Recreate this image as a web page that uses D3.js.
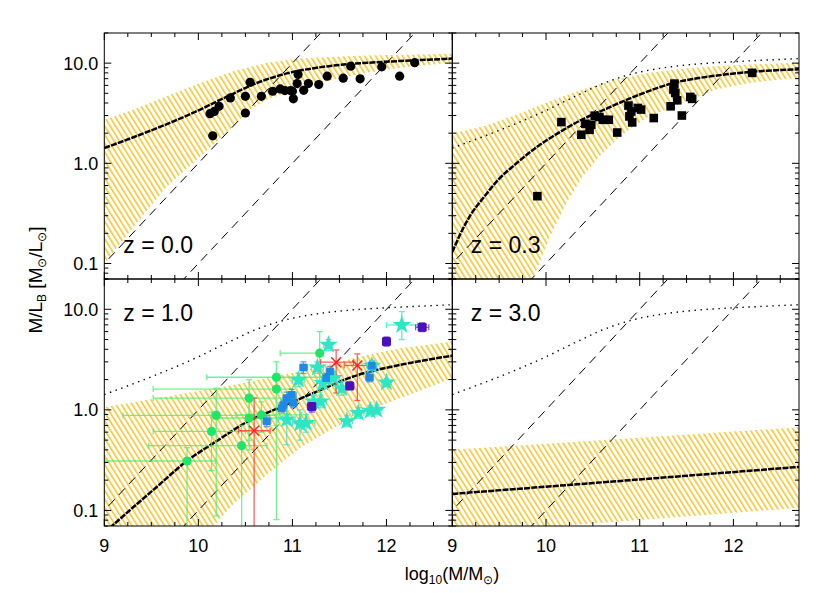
<!DOCTYPE html>
<html><head><meta charset="utf-8">
<script src="https://cdn.jsdelivr.net/npm/d3@7"></script>
<style>body{margin:0;background:#fff}text{font-family:Arial,"Liberation Sans",Helvetica,sans-serif}</style>
</head><body><svg id="c" width="830" height="593"></svg>
<script>
// ---------------- data ----------------
const xTicks = [9, 10, 11, 12];
const xTickLabels = ["9", "10", "11", "12"];
const yTicks = [0.1, 1, 10];
const yTickLabels = ["0.1", "1.0", "10.0"];
const panelLabels = ["z = 0.0", "z = 0.3", "z = 1.0", "z = 3.0"];
const guideLineLogL = [10, 11];

// local (z=0) model, drawn dotted in the other panels
const curveZ00 = [[9.0,1.42],[9.31,1.82],[9.66,2.45],[10.02,3.44],[10.2,4.16],[10.38,5.0],[10.55,5.95],[10.73,6.9],[10.94,7.9],[11.26,9.0],[11.61,9.8],[11.97,10.3],[12.32,10.7],[12.7,11.1]];
const bandHiZ00 = [[9.0,2.72],[9.31,3.44],[9.66,4.67],[10.02,6.35],[10.37,8.3],[10.73,10.1],[11.08,11.1],[11.44,11.6],[11.79,11.9],[12.15,12.1],[12.71,12.4]];
const bandLoZ00 = [[9.0,0.10],[9.31,0.23],[9.66,0.58],[10.02,1.17],[10.37,2.33],[10.55,3.44],[10.73,4.33],[11.08,5.66],[11.44,6.87],[11.79,8.0],[12.15,9.0],[12.5,9.7],[12.71,10.1]];

const curveZ03 = [[9.0,0.13],[9.1,0.21],[9.2,0.31],[9.33,0.45],[9.5,0.70],[9.685,1.0],[9.9,1.45],[10.146,2.05],[10.39,2.75],[10.64,3.5],[10.96,4.7],[11.35,6.3],[11.81,7.5],[12.2,8.2],[12.7,8.7]];
const bandHiZ03 = [[9.0,2.0],[9.33,2.33],[9.685,3.05],[10.04,4.16],[10.39,5.45],[10.75,6.87],[11.10,8.0],[11.46,8.8],[11.81,9.33],[12.17,9.7],[12.7,10.1]];
const bandLoZ03 = [[9.0,0.01],[9.5,0.03],[9.862,0.07],[10.04,0.184],[10.217,0.40],[10.39,0.74],[10.57,1.17],[10.75,1.72],[10.93,2.33],[11.10,2.94],[11.46,4.0],[11.81,5.45],[12.17,6.35],[12.7,7.14]];

const curveZ10 = [[9.0,0.06],[9.096,0.072],[9.31,0.108],[9.557,0.171],[9.877,0.31],[10.196,0.49],[10.53,0.77],[10.85,1.04],[11.26,1.52],[11.65,2.15],[12.15,2.80],[12.71,3.47]];
const bandHiZ10 = [[9.0,1.06],[9.664,1.36],[10.37,1.77],[10.73,2.07],[11.08,2.41],[11.44,2.91],[11.79,3.52],[12.15,4.10],[12.71,4.79]];
const bandLoZ10 = [[9.0,0.01],[9.8,0.04],[10.16,0.070],[10.37,0.115],[10.73,0.227],[11.08,0.418],[11.44,0.66],[11.79,0.966],[12.15,1.31],[12.71,2.07]];

const curveZ30 = [[9.0,0.146],[10.75,0.195],[12.7,0.271]];
const bandHiZ30 = [[9.0,0.40],[12.7,0.67]];
const bandLoZ30 = [[9.0,0.058],[12.7,0.106]];

// z = 0.0 galaxies (filled circles)
const obsZ00 = [[10.153,1.88],[10.124,3.13],[10.17,3.30],[10.22,3.71],[10.34,4.50],[10.50,4.67],[10.50,3.18],[10.55,6.44],[10.67,4.67],[10.79,5.24],[10.87,5.53],[10.92,5.32],[10.98,5.32],[11.01,4.40],[11.00,5.24],[11.06,7.71],[11.05,6.25],[11.12,5.36],[11.17,6.25],[11.28,6.11],[11.37,7.41],[11.54,7.08],[11.62,9.33],[11.72,6.97],[11.95,9.2],[12.14,7.41],[12.30,10.1]];
// z = 0.3 galaxies (filled squares)
const obsZ03 = [[10.164,2.58],[9.908,0.47],[10.377,1.93],[10.42,2.48],[10.465,2.16],[10.483,2.43],[10.52,2.99],[10.57,2.90],[10.606,2.72],[10.67,2.72],[10.76,2.03],[10.88,3.77],[10.91,3.30],[10.92,2.56],[10.89,2.94],[10.98,3.57],[11.015,3.44],[11.15,2.83],[11.33,3.71],[11.37,6.25],[11.36,5.45],[11.38,5.05],[11.40,4.26],[11.45,3.0],[11.54,4.6],[11.56,4.4],[12.20,8.0]];

// z = 1.0 samples: [x, y, xlo, xhi, ylo, yhi]
const obsZ10Green = [
  [9.88,0.31, 9.007,10.18, 0.05,0.42],
  [10.14,0.61, 9.52,10.5, 0.25,0.95],
  [10.19,0.88, 9.20,10.83, 0.088,1.64],
  [10.46,0.44, 9.47,10.73, 0.05,0.70],
  [10.54,1.31, 9.52,10.97, 0.5,2.0],
  [10.54,0.83, 10.2,10.9, 0.4,1.2],
  [10.67,0.89, 10.4,11.1, 0.6,1.2],
  [10.83,2.11, 10.09,11.47, 0.7,3.0],
  [10.83,1.61, 9.52,11.0, 0.081,2.23],
  [11.29,3.66, 10.87,11.3, 1.5,6.0]
];
const obsZ10Star = [
  [11.383,4.43, 11.33,11.43, 3.9,5.0],[11.266,2.64, 11.2,11.33, 2.3,3.0],[11.064,1.99, 11.0,11.13, 1.7,2.3],[11.323,1.85, 11.26,11.39, 1.6,2.1],
  [11.437,2.07, 11.37,11.5, 1.8,2.4],[11.525,1.64, 11.46,11.59, 1.4,1.9],[10.94,0.80, 10.85,11.03, 0.45,1.2],[11.08,0.73, 11.0,11.17, 0.5,1.0],
  [11.145,0.74, 11.05,11.24, 0.6,0.9],[11.224,1.21, 11.16,11.29, 1.05,1.4],[11.30,1.21, 11.24,11.36, 1.05,1.4],[11.578,0.77, 11.52,11.64, 0.68,0.87],
  [11.70,0.93, 11.64,11.76, 0.82,1.05],[11.827,0.98, 11.77,11.88, 0.87,1.1],[11.897,1.0, 11.84,11.95, 0.9,1.12],[12.0,1.87, 11.95,12.05, 1.7,2.05],
  [11.845,2.74, 11.79,11.9, 2.45,3.05],[12.163,6.98, 12.0,12.33, 5.0,9.5]
];
const obsZ10Blue = [
  [11.117,2.64, 11.08,11.16, 2.3,3.0],[10.94,1.31, 10.9,10.98, 1.15,1.5],[10.993,1.41, 10.95,11.04, 1.25,1.6],[11.01,1.17, 10.97,11.05, 1.05,1.3],
  [10.887,1.04, 10.85,10.93, 0.93,1.17],[10.727,0.77, 10.69,10.77, 0.68,0.87],[11.359,2.07, 11.32,11.4, 1.85,2.3],[11.40,2.41, 11.36,11.44, 2.15,2.7],
  [11.82,2.10, 11.78,11.86, 1.9,2.35],[11.845,2.75, 11.8,11.89, 2.45,3.05],[10.905,1.12, 10.87,10.94, 1.0,1.25]
];
const obsZ10Purple = [
  [11.61,1.73, 11.57,11.65, 1.6,1.9],[11.206,1.08, 11.16,11.25, 0.95,1.22],[12.0,4.78, 11.96,12.04, 4.3,5.3],[12.38,6.62, 12.31,12.45, 6.0,7.3]
];
const obsZ10Red = [
  [10.593,0.62, 10.426,10.763, 0.05,1.31],[11.465,2.98, 11.3,11.65, 1.47,3.94],[11.69,2.76, 11.55,11.85, 1.24,3.6]
];

// ---------------- drawing ----------------
const svg = d3.select("#c");
const colX = [[104.3, 452.3], [452.3, 799]];
const rowY = [[279, 33], [526, 279]];
const xDomain = [9, 12.7], yDomain = [0.07, 20];

const defs = svg.append("defs");
const pat = defs.append("pattern").attr("id","hatch").attr("patternUnits","userSpaceOnUse")
  .attr("width",4.6).attr("height",4.6).attr("patternTransform","rotate(58)");
pat.append("line").attr("x1",-1).attr("x2",6).attr("y1",1).attr("y2",1)
  .attr("stroke","#f7b900").attr("stroke-width",1.3);

const panels = [
  {c:0,r:0,curve:curveZ00,hi:bandHiZ00,lo:bandLoZ00,dotted:false},
  {c:1,r:0,curve:curveZ03,hi:bandHiZ03,lo:bandLoZ03,dotted:true},
  {c:0,r:1,curve:curveZ10,hi:bandHiZ10,lo:bandLoZ10,dotted:true},
  {c:1,r:1,curve:curveZ30,hi:bandHiZ30,lo:bandLoZ30,dotted:true}
];

panels.forEach((p,i)=>{
  const x = d3.scaleLinear().domain(xDomain).range(colX[p.c]);
  const y = d3.scaleLog().domain(yDomain).range(rowY[p.r]);
  p.x = x; p.y = y;
  const cid = "clip"+i;
  defs.append("clipPath").attr("id",cid).append("rect")
    .attr("x",colX[p.c][0]).attr("y",rowY[p.r][1])
    .attr("width",colX[p.c][1]-colX[p.c][0]).attr("height",rowY[p.r][0]-rowY[p.r][1]);
  const g = svg.append("g").attr("clip-path",`url(#${cid})`);
  const line = d3.line().x(d=>x(d[0])).y(d=>y(d[1])).curve(d3.curveMonotoneX);
  const poly = p.hi.map(d=>[x(d[0]),y(d[1])]).concat(p.lo.slice().reverse().map(d=>[x(d[0]),y(d[1])]));
  g.append("path").attr("d", d3.line().curve(d3.curveLinearClosed)(poly)).attr("fill","url(#hatch)");
  guideLineLogL.forEach(L=>{
    const pts=[[8.5,Math.pow(10,8.5-L)],[13.5,Math.pow(10,13.5-L)]];
    g.append("path").attr("d",d3.line().x(d=>x(d[0])).y(d=>y(d[1]))(pts))
      .attr("fill","none").attr("stroke","#000").attr("stroke-width",1).attr("stroke-dasharray","9,6");
  });
  if(p.dotted){
    g.append("path").attr("d",line(curveZ00)).attr("fill","none").attr("stroke","#000")
      .attr("stroke-width",1.4).attr("stroke-dasharray","1.4,4.6");
  }
  g.append("path").attr("d",line(p.curve)).attr("fill","none").attr("stroke","#000")
    .attr("stroke-width",2.5).attr("stroke-dasharray","6,1.2");
  p.g = g;
});

panels[0].g.selectAll("circle.o").data(obsZ00).join("circle")
  .attr("cx",d=>panels[0].x(d[0])).attr("cy",d=>panels[0].y(d[1])).attr("r",4.6).attr("fill","#000");
panels[1].g.selectAll("rect.o").data(obsZ03).join("rect")
  .attr("x",d=>panels[1].x(d[0])-4.3).attr("y",d=>panels[1].y(d[1])-4.3).attr("width",8.6).attr("height",8.6).attr("fill","#000");

const P = panels[2], gz = P.g;
function errBars(data, color){
  const eg = gz.append("g").attr("stroke",color).attr("stroke-width",1.3).attr("fill","none").attr("opacity",0.75);
  data.forEach(d=>{
    const cx=P.x(d[0]), cy=P.y(d[1]);
    const x0=P.x(d[2]), x1=P.x(d[3]), y0=P.y(d[4]), y1=P.y(d[5]);
    eg.append("line").attr("x1",x0).attr("x2",x1).attr("y1",cy).attr("y2",cy);
    eg.append("line").attr("x1",cx).attr("x2",cx).attr("y1",y0).attr("y2",y1);
    eg.append("line").attr("x1",x0).attr("x2",x0).attr("y1",cy-3).attr("y2",cy+3);
    eg.append("line").attr("x1",x1).attr("x2",x1).attr("y1",cy-3).attr("y2",cy+3);
    eg.append("line").attr("x1",cx-3).attr("x2",cx+3).attr("y1",y0).attr("y2",y0);
    eg.append("line").attr("x1",cx-3).attr("x2",cx+3).attr("y1",y1).attr("y2",y1);
  });
}
errBars(obsZ10Green,"#3ef06a");
errBars(obsZ10Star,"#2ee6c4");
errBars(obsZ10Blue,"#1e8ae6");
errBars(obsZ10Purple,"#5a1cc8");
errBars(obsZ10Red,"#ff2a2a");
gz.selectAll("circle.g").data(obsZ10Green).join("circle")
  .attr("cx",d=>P.x(d[0])).attr("cy",d=>P.y(d[1])).attr("r",4.6).attr("fill","#1fe664");
gz.selectAll("path.s").data(obsZ10Star).join("path")
  .attr("d",d3.symbol().type(d3.symbolStar).size(110))
  .attr("transform",d=>`translate(${P.x(d[0])},${P.y(d[1])})`).attr("fill","#2ee6c4");
gz.selectAll("rect.b").data(obsZ10Blue).join("rect")
  .attr("x",d=>P.x(d[0])-3.8).attr("y",d=>P.y(d[1])-3.8).attr("width",7.6).attr("height",7.6).attr("fill","#1e8ae6");
gz.selectAll("rect.p").data(obsZ10Purple).join("rect")
  .attr("x",d=>P.x(d[0])-4.5).attr("y",d=>P.y(d[1])-4.5).attr("width",9).attr("height",9).attr("rx",1.5).attr("fill","#4a10be");
const rg = gz.append("g").attr("stroke","#ff2020").attr("stroke-width",1.4);
obsZ10Red.forEach(d=>{
  const cx=P.x(d[0]), cy=P.y(d[1]), s=5;
  rg.append("line").attr("x1",cx-s).attr("x2",cx+s).attr("y1",cy-s).attr("y2",cy+s);
  rg.append("line").attr("x1",cx-s).attr("x2",cx+s).attr("y1",cy+s).attr("y2",cy-s);
});

panels.forEach((p,i)=>{
  const x=p.x, y=p.y;
  const [xl,xr]=colX[p.c], [yb,yt]=rowY[p.r];
  const fg = svg.append("g").attr("stroke","#000").attr("stroke-width",1);
  fg.append("rect").attr("x",xl).attr("y",yt).attr("width",xr-xl).attr("height",yb-yt).attr("fill","none");
  d3.range(9, 12.71, 0.25).forEach(v=>{
    const L = Math.abs(v-Math.round(v))<1e-6 ? 7 : 4;
    const px = x(v);
    fg.append("line").attr("x1",px).attr("x2",px).attr("y1",yb).attr("y2",yb-L);
    fg.append("line").attr("x1",px).attr("x2",px).attr("y1",yt).attr("y2",yt+L);
  });
  const yt_ = [];
  [0.01,0.1,1,10].forEach(dec=>{for(let k=1;k<10;k++){const v=dec*k; if(v>=yDomain[0]&&v<=yDomain[1]) yt_.push([v,k===1]);}});
  yt_.forEach(([v,maj])=>{
    const L = maj?7:4, py=y(v);
    fg.append("line").attr("x1",xl).attr("x2",xl+L).attr("y1",py).attr("y2",py);
    fg.append("line").attr("x1",xr).attr("x2",xr-L).attr("y1",py).attr("y2",py);
  });
  if(p.c===0){
    yTicks.forEach((v,k)=>svg.append("text").attr("x",xl-6).attr("y",y(v)+6.5)
      .attr("text-anchor","end").attr("font-size",18).text(yTickLabels[k]));
  }
  if(p.r===1){
    xTicks.forEach((v,k)=>svg.append("text").attr("x",x(v)).attr("y",552)
      .attr("text-anchor","middle").attr("font-size",18).text(xTickLabels[k]));
  }
  const lx = xl + (p.c===0?19:18.5);
  const ly = p.r===0 ? 253 : 321;
  svg.append("text").attr("x",lx).attr("y",ly).attr("font-size",23).text(panelLabels[i]);
});

const xt = svg.append("text").attr("x",452).attr("y",580).attr("text-anchor","middle").attr("font-size",18);
xt.append("tspan").text("log");
xt.append("tspan").attr("font-size",12).attr("dy",4).text("10");
xt.append("tspan").attr("dy",-4).text("(M/M");
xt.append("tspan").attr("font-size",12).attr("dy",4).text("⊙");
xt.append("tspan").attr("dy",-4).text(")");

const yt = svg.append("text").attr("transform","translate(42,280) rotate(-90)").attr("text-anchor","middle").attr("font-size",19);
yt.append("tspan").text("M/L");
yt.append("tspan").attr("font-size",12).attr("dy",4).text("B");
yt.append("tspan").attr("dy",-4).text("  [M");
yt.append("tspan").attr("font-size",12).attr("dy",4).text("⊙");
yt.append("tspan").attr("dy",-4).text("/L");
yt.append("tspan").attr("font-size",12).attr("dy",4).text("⊙");
yt.append("tspan").attr("dy",-4).text("]");
</script></body></html>
